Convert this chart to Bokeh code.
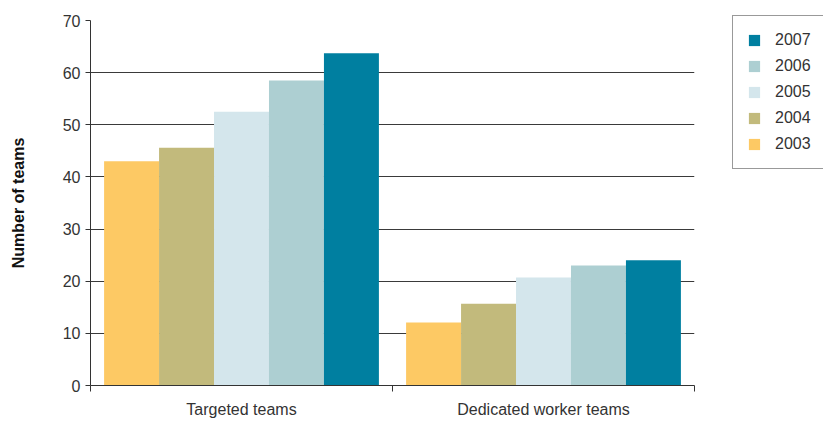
from bokeh.plotting import figure
from bokeh.models import ColumnDataSource, Range1d, FixedTicker
from bokeh.transform import dodge
from bokeh.embed import file_html
from bokeh.resources import INLINE

categories = ["Targeted teams", "Dedicated worker teams"]
years = ["2003", "2004", "2005", "2006", "2007"]
v2003 = [43.0, 12.1]
v2004 = [45.6, 15.7]
v2005 = [52.5, 20.7]
v2006 = [58.5, 23.0]
v2007 = [63.7, 24.0]
colors = ["#FDC964", "#C2BA7C", "#D4E6EC", "#ADCFD2", "#007FA0"]
y_ticks = [0, 10, 20, 30, 40, 50, 60, 70]

centres = [i + 0.5 for i in range(len(categories))]
src = ColumnDataSource(dict(x=centres, y2003=v2003, y2004=v2004,
                            y2005=v2005, y2006=v2006, y2007=v2007))

FONT = "Liberation Sans"
TXT = "#333333"

p = figure(frame_width=604, frame_height=365, output_backend="svg",
           toolbar_location=None,
           x_range=Range1d(0, len(categories)), y_range=Range1d(0, 70),
           min_border_left=90, min_border_right=128, min_border_top=20,
           min_border_bottom=0)
p.outline_line_color = None
p.xgrid.grid_line_color = None
p.ygrid.grid_line_color = "#3a3a3a"
p.ygrid.grid_line_width = 1
p.ygrid.ticker = FixedTicker(ticks=y_ticks)

bw = 0.182
offsets = [-2 * bw, -bw, 0, bw, 2 * bw]
for yr, off, c in zip(years, offsets, colors):
    p.vbar(x=dodge("x", off), top="y" + yr, width=bw,
           source=src, color=c, line_color=None, legend_label=yr)

# y axis
ya = p.yaxis[0]
ya.ticker = FixedTicker(ticks=y_ticks)
ya.axis_line_color = TXT
ya.major_tick_line_color = TXT
ya.major_tick_out = 5
ya.major_tick_in = 0
ya.minor_tick_line_color = None
ya.major_label_text_font = FONT
ya.major_label_text_font_size = "16px"
ya.major_label_text_color = TXT
ya.major_label_standoff = 5
ya.axis_label = "Number of teams"
ya.axis_label_text_font = FONT
ya.axis_label_text_font_size = "16px"
ya.axis_label_text_font_style = "bold"
ya.axis_label_text_color = "#111111"
ya.axis_label_standoff = 33

# x axis: labels at category centres, ticks at category boundaries
xa = p.xaxis[0]
xa.ticker = FixedTicker(ticks=centres,
                        minor_ticks=list(range(len(categories) + 1)))
xa.major_label_overrides = {c: lab for c, lab in zip(centres, categories)}
xa.major_tick_line_color = None
xa.minor_tick_line_color = TXT
xa.minor_tick_out = 6
xa.minor_tick_in = 0
xa.axis_line_color = TXT
xa.major_label_text_font = FONT
xa.major_label_text_font_size = "16px"
xa.major_label_text_color = TXT
xa.major_label_standoff = 9

# legend, outside the frame on the right
leg = p.legend[0]
p.center.remove(leg)
leg.items = list(reversed(leg.items))
leg.location = (38, 216)
leg.margin = 0
leg.padding = 14
leg.spacing = 6
leg.glyph_width = 14
leg.glyph_height = 14
leg.label_height = 20
leg.label_standoff = 14
leg.label_text_font = FONT
leg.label_text_font_size = "16px"
leg.label_text_color = TXT
leg.border_line_color = "#333333"
leg.border_line_width = 1
leg.background_fill_alpha = 1
p.add_layout(leg, "right")

open("out.html", "w").write(file_html(p, INLINE))
